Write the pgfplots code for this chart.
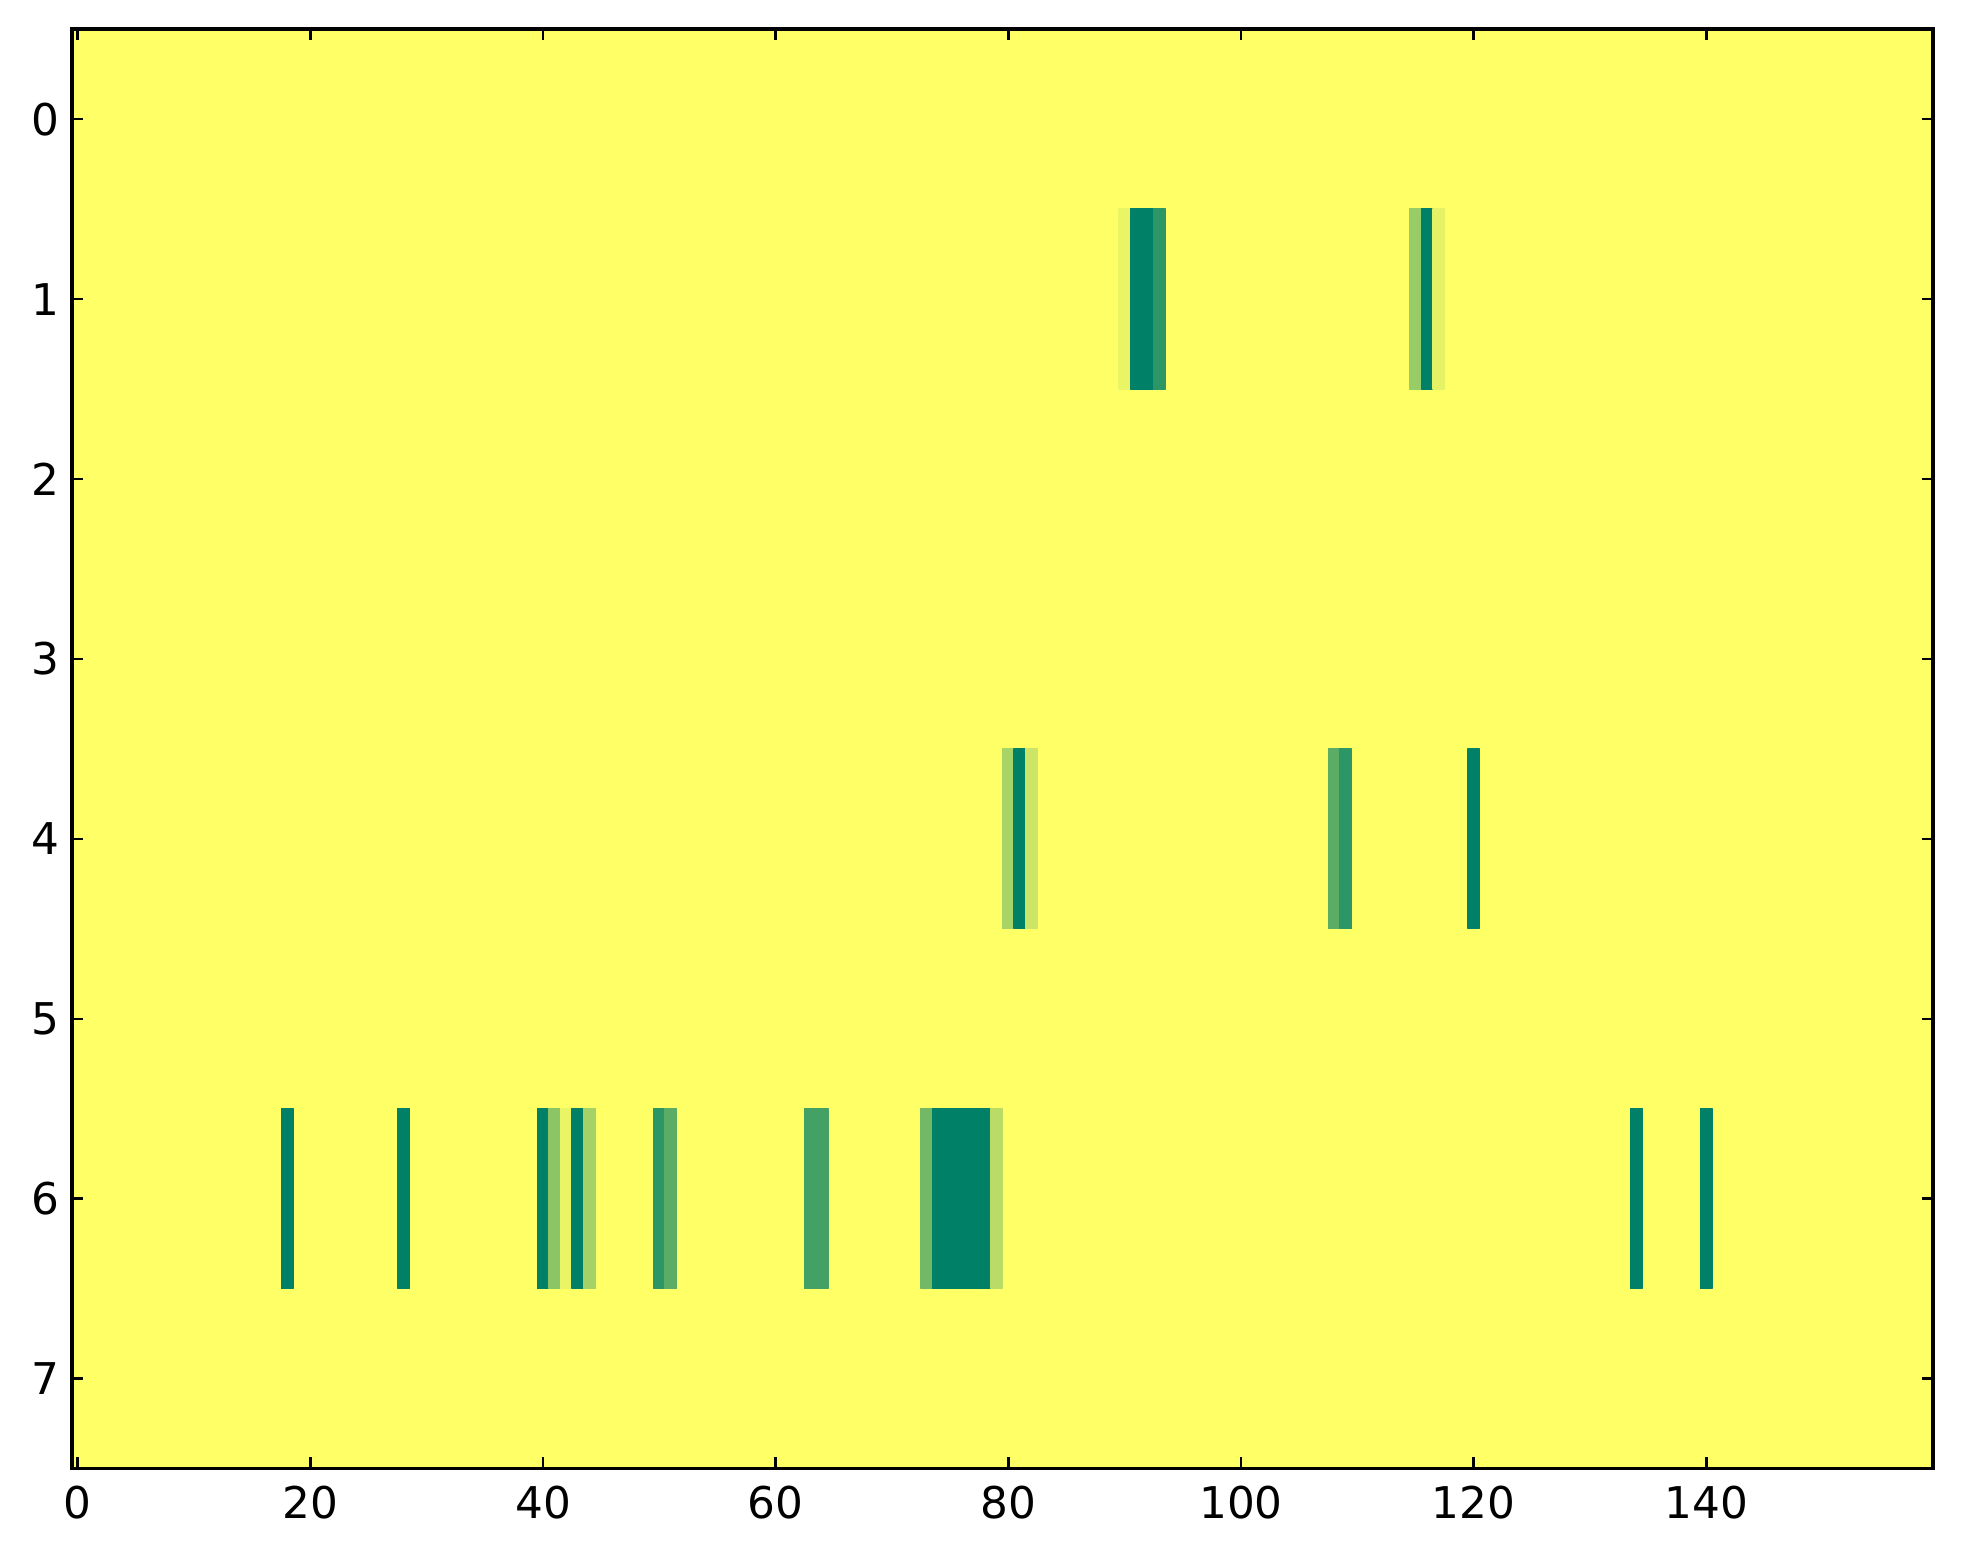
\documentclass[border=0pt]{standalone}
\usepackage{fontspec}
\setmainfont{DejaVu Sans}
\usepackage{pgfplots}
\pgfplotsset{compat=1.18}
\usepgfplotslibrary{patchplots}
\definecolor{lowyellow}{rgb}{1,1,0.4}

% nonzero cells of the image, one rectangle = 4 corners (x y value)
\pgfplotstableread{
x y c
89.5 0.5 0.08
90.5 0.5 0.08
90.5 1.5 0.08
89.5 1.5 0.08
90.5 0.5 1
92.5 0.5 1
92.5 1.5 1
90.5 1.5 1
92.5 0.5 0.82
93.5 0.5 0.82
93.5 1.5 0.82
92.5 1.5 0.82
114.5 0.5 0.40
115.5 0.5 0.40
115.5 1.5 0.40
114.5 1.5 0.40
115.5 0.5 1
116.5 0.5 1
116.5 1.5 1
115.5 1.5 1
116.5 0.5 0.10
117.5 0.5 0.10
117.5 1.5 0.10
116.5 1.5 0.10
79.5 3.5 0.34
80.5 3.5 0.34
80.5 4.5 0.34
79.5 4.5 0.34
80.5 3.5 1
81.5 3.5 1
81.5 4.5 1
80.5 4.5 1
81.5 3.5 0.20
82.5 3.5 0.20
82.5 4.5 0.20
81.5 4.5 0.20
107.5 3.5 0.64
108.5 3.5 0.64
108.5 4.5 0.64
107.5 4.5 0.64
108.5 3.5 0.82
109.5 3.5 0.82
109.5 4.5 0.82
108.5 4.5 0.82
119.5 3.5 1
120.5 3.5 1
120.5 4.5 1
119.5 4.5 1
17.5 5.5 1
18.5 5.5 1
18.5 6.5 1
17.5 6.5 1
27.5 5.5 1
28.5 5.5 1
28.5 6.5 1
27.5 6.5 1
39.5 5.5 1
40.5 5.5 1
40.5 6.5 1
39.5 6.5 1
40.5 5.5 0.45
41.5 5.5 0.45
41.5 6.5 0.45
40.5 6.5 0.45
41.5 5.5 0.08
42.5 5.5 0.08
42.5 6.5 0.08
41.5 6.5 0.08
42.5 5.5 1
43.5 5.5 1
43.5 6.5 1
42.5 6.5 1
43.5 5.5 0.35
44.5 5.5 0.35
44.5 6.5 0.35
43.5 6.5 0.35
49.5 5.5 0.82
50.5 5.5 0.82
50.5 6.5 0.82
49.5 6.5 0.82
50.5 5.5 0.64
51.5 5.5 0.64
51.5 6.5 0.64
50.5 6.5 0.64
62.5 5.5 0.73
64.5 5.5 0.73
64.5 6.5 0.73
62.5 6.5 0.73
72.5 5.5 0.55
73.5 5.5 0.55
73.5 6.5 0.55
72.5 6.5 0.55
73.5 5.5 1
78.5 5.5 1
78.5 6.5 1
73.5 6.5 1
78.5 5.5 0.27
79.5 5.5 0.27
79.5 6.5 0.27
78.5 6.5 0.27
133.5 5.5 1
134.5 5.5 1
134.5 6.5 1
133.5 6.5 1
139.5 5.5 1
140.5 5.5 1
140.5 6.5 1
139.5 6.5 1
}\cells

\begin{document}
\begin{tikzpicture}
\begin{axis}[
  width=536pt, height=414.5pt,
  scale only axis,
  xmin=-0.5, xmax=159.5,
  ymin=-0.5, ymax=7.5,
  y dir=reverse,
  xtick={0,20,...,140},
  ytick={0,1,...,7},
  tick align=inside,
  major tick length=3.2pt,
  minor tick num=0,
  axis line style={line width=1pt},
  every tick/.style={black, line width=0.7pt},
  axis background/.style={fill=lowyellow},
  colormap={summerr}{rgb=(1,1,0.4) rgb=(0,0.5,0.4)},
  point meta min=0, point meta max=1,
  tick label style={font=\fontsize{12.6}{14}\selectfont},
  /pgf/number format/assume math mode=true,
  xticklabel style={yshift=-1.5pt},
  yticklabel style={xshift=0pt},
]
\addplot[patch, patch type=rectangle, shader=flat, point meta=explicit]
  table[x=x, y=y, meta=c] {\cells};
\end{axis}
\pgfresetboundingbox
\path (current axis.south west) ++(-20.7pt,-27.7pt) coordinate (bl);
\path (current axis.north east) ++(8.6pt,8.4pt) coordinate (tr);
\path[use as bounding box] (bl) rectangle (tr);
\end{tikzpicture}
\end{document}
